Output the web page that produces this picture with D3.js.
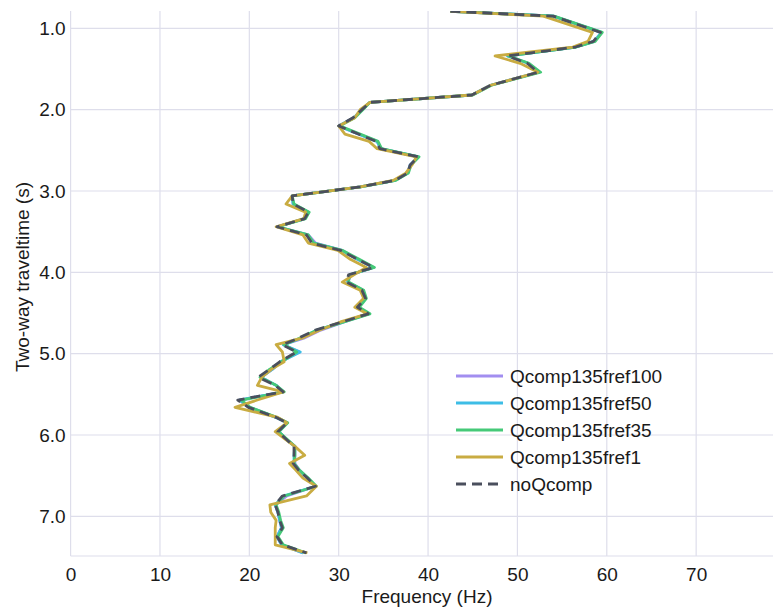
<!DOCTYPE html>
<html>
<head>
<meta charset="utf-8">
<script src="https://cdn.jsdelivr.net/npm/d3@7"></script>
<style>
  html, body { margin: 0; padding: 0; background: #fff; }
  svg { display: block; }
  text { font-family: "Liberation Sans", Arial, Helvetica, sans-serif; fill: #1a1a1a; }
</style>
</head>
<body>
<svg id="chart" width="773" height="609"></svg>
<script>
// Two-way traveltime samples (s)
const times = [
  0.79,0.85,1.05,1.16,1.23,1.34,1.43,1.54,1.70,1.82,
  1.91,2.00,2.10,2.20,2.30,2.39,2.48,2.58,2.68,2.78,
  2.87,2.95,3.06,3.16,3.26,3.34,3.44,3.54,3.64,3.73,
  3.84,3.94,4.03,4.12,4.22,4.32,4.43,4.51,4.61,4.71,
  4.81,4.89,4.98,5.10,5.19,5.29,5.39,5.47,5.57,5.66,
  5.78,5.85,5.96,6.05,6.14,6.25,6.35,6.43,6.53,6.63,
  6.75,6.86,6.95,7.05,7.14,7.25,7.35,7.45
];

// Dominant frequency (Hz) per trace
const qcomp135fref100 = [
  42.5,54.0,59.4,58.6,56.5,48.9,51.2,52.4,47.0,44.9,
  33.5,32.6,31.7,30.0,32.2,34.3,34.7,38.9,38.0,37.7,
  36.3,32.4,24.8,24.9,26.6,26.2,23.1,26.6,27.4,30.4,
  32.1,33.9,31.4,31.0,32.7,33.0,32.2,33.3,30.6,28.0,
  26.1,23.8,25.6,23.5,22.6,21.3,23.0,23.8,18.9,20.0,
  22.9,24.2,23.3,24.1,25.1,25.1,25.1,25.6,26.5,27.4,
  24.2,22.9,23.2,23.4,23.6,23.1,23.6,26.0
];
const qcomp135fref50 = [
  42.5,54.0,59.4,58.6,56.5,48.9,51.2,52.4,47.0,44.9,
  33.5,32.6,31.7,30.0,32.2,34.3,34.7,38.9,38.0,37.7,
  36.3,32.4,24.8,24.9,26.6,26.2,23.1,26.5,27.2,30.3,
  32.1,33.9,31.3,31.0,32.7,33.0,32.2,33.3,30.5,27.6,
  25.8,23.8,25.7,23.5,22.6,21.3,23.0,23.8,18.9,20.0,
  22.9,24.2,23.3,24.1,25.1,25.0,25.0,25.5,26.5,27.4,
  23.8,22.9,23.2,23.4,23.6,23.1,23.6,26.0
];
const qcomp135fref35 = [
  42.5,54.1,59.5,58.7,56.6,49.0,51.3,52.6,47.1,45.0,
  33.5,32.7,31.8,30.1,32.4,34.4,34.8,39.0,38.1,37.8,
  36.4,32.5,24.8,25.0,26.7,26.3,23.2,26.6,27.2,30.4,
  32.3,34.0,31.2,31.1,32.8,33.1,32.3,33.5,30.6,27.6,
  25.6,23.9,25.3,23.6,22.3,21.2,23.0,23.9,19.1,20.1,
  23.0,24.3,23.3,24.2,25.1,25.1,25.0,25.6,26.6,27.5,
  23.9,23.0,23.3,23.5,23.8,23.2,23.8,26.3
];
const qcomp135fref1 = [
  42.5,52.9,58.4,57.9,56.2,47.5,50.3,52.3,47.0,44.9,
  33.5,32.4,31.8,30.0,30.7,33.4,34.3,38.7,38.2,37.5,
  36.1,32.4,24.8,24.1,26.3,26.1,23.0,26.0,26.6,29.9,
  31.3,33.1,31.7,30.4,32.4,32.8,31.8,33.2,30.2,27.9,
  25.9,23.0,23.7,23.9,22.5,21.4,20.9,23.8,20.9,18.4,
  23.1,24.2,22.9,24.0,25.1,26.2,24.5,25.2,26.0,27.5,
  26.4,22.3,22.4,23.0,22.9,22.9,22.9,26.5
];
const noQcomp = [
  42.5,54.0,59.3,58.5,56.5,48.9,51.1,52.3,47.0,44.9,
  33.5,32.6,31.6,30.0,32.2,34.2,34.6,38.9,38.0,37.7,
  36.3,32.4,24.8,24.9,26.6,26.2,23.1,26.4,27.0,30.2,
  32.1,33.9,31.1,30.9,32.6,33.0,32.1,33.3,30.4,27.4,
  25.5,23.7,25.3,23.4,22.3,21.0,22.9,23.8,18.7,19.9,
  22.9,24.2,23.2,24.1,25.0,25.0,24.9,25.5,26.5,27.4,
  23.7,22.9,23.2,23.4,23.7,23.1,23.7,26.4
];

const seriesNames = ["Qcomp135fref100", "Qcomp135fref50", "Qcomp135fref35", "Qcomp135fref1", "noQcomp"];
const seriesValues = [qcomp135fref100, qcomp135fref50, qcomp135fref35, qcomp135fref1, noQcomp];
const seriesColors = ["#a28ef0", "#3dbde6", "#45c978", "#c9ac42", "#4a4f5d"];
const seriesDash = [null, null, null, null, "10,6"];

const xTicks = [0, 10, 20, 30, 40, 50, 60, 70];
const yTicks = [1.0, 2.0, 3.0, 4.0, 5.0, 6.0, 7.0];

const xDomain = [0, 78.6];
const yDomain = [0.787, 7.488];

// Layout
const plot = { left: 70.6, right: 773, top: 11, bottom: 556 };
const gridColor = "#dedeeb";

const svg = d3.select("#chart");

const x = d3.scaleLinear().domain(xDomain).range([plot.left, plot.right]);
const y = d3.scaleLinear().domain(yDomain).range([plot.top, plot.bottom]);

// Grid
const grid = svg.append("g").attr("class", "grid");
grid.selectAll("line.v").data(xTicks).join("line")
  .attr("class", "v")
  .attr("x1", d => x(d)).attr("x2", d => x(d))
  .attr("y1", plot.top).attr("y2", plot.bottom)
  .attr("stroke", gridColor).attr("stroke-width", 1.2);
grid.selectAll("line.h").data(yTicks).join("line")
  .attr("class", "h")
  .attr("x1", plot.left).attr("x2", plot.right)
  .attr("y1", d => y(d)).attr("y2", d => y(d))
  .attr("stroke", gridColor).attr("stroke-width", 1.2);
grid.append("line")
  .attr("x1", plot.left).attr("x2", plot.right)
  .attr("y1", plot.bottom).attr("y2", plot.bottom)
  .attr("stroke", gridColor).attr("stroke-width", 1.2);

// Axes (labels only, grid draws the rules)
const xAxis = d3.axisBottom(x).tickValues(xTicks).tickFormat(d3.format("d")).tickSize(0).tickPadding(12);
const yAxis = d3.axisLeft(y).tickValues(yTicks).tickFormat(d3.format(".1f")).tickSize(0).tickPadding(5);

const gx = svg.append("g").attr("transform", `translate(0,${plot.bottom})`).call(xAxis);
const gy = svg.append("g").attr("transform", `translate(${plot.left},0)`).call(yAxis);
[gx, gy].forEach(g => {
  g.select(".domain").remove();
  g.selectAll("text").style("font-size", "19px").attr("fill", "#1a1a1a")
    .style("font-family", "'Liberation Sans', Arial, Helvetica, sans-serif");
});

// Axis titles
svg.append("text")
  .attr("x", 427).attr("y", 603)
  .attr("text-anchor", "middle")
  .style("font-size", "19px")
  .text("Frequency (Hz)");
svg.append("text")
  .attr("transform", "translate(29,277) rotate(-90)")
  .attr("text-anchor", "middle")
  .style("font-size", "19px")
  .text("Two-way traveltime (s)");

// Traces
svg.append("clipPath").attr("id", "plot-clip")
  .append("rect")
  .attr("x", plot.left).attr("y", plot.top)
  .attr("width", plot.right - plot.left).attr("height", plot.bottom - plot.top);

const line = d3.line()
  .x(d => x(d[1]))
  .y(d => y(d[0]));

const traces = svg.append("g").attr("clip-path", "url(#plot-clip)");
seriesValues.forEach((vals, i) => {
  traces.append("path")
    .datum(times.map((t, j) => [t, vals[j]]))
    .attr("d", line)
    .attr("fill", "none")
    .attr("stroke", seriesColors[i])
    .attr("stroke-width", 2.8)
    .attr("stroke-linejoin", "round")
    .attr("stroke-dasharray", seriesDash[i]);
});

// Legend
const legend = svg.append("g").attr("transform", "translate(456,376)");
const rowH = 27;
seriesNames.forEach((name, i) => {
  const row = legend.append("g").attr("transform", `translate(0,${i * rowH})`);
  row.append("line")
    .attr("x1", 0).attr("x2", 47)
    .attr("y1", 0).attr("y2", 0)
    .attr("stroke", seriesColors[i])
    .attr("stroke-width", 2.8)
    .attr("stroke-dasharray", seriesDash[i]);
  row.append("text")
    .attr("x", 54).attr("y", 0).attr("dy", "0.35em")
    .style("font-size", "19px")
    .text(name);
});
</script>
</body>
</html>
